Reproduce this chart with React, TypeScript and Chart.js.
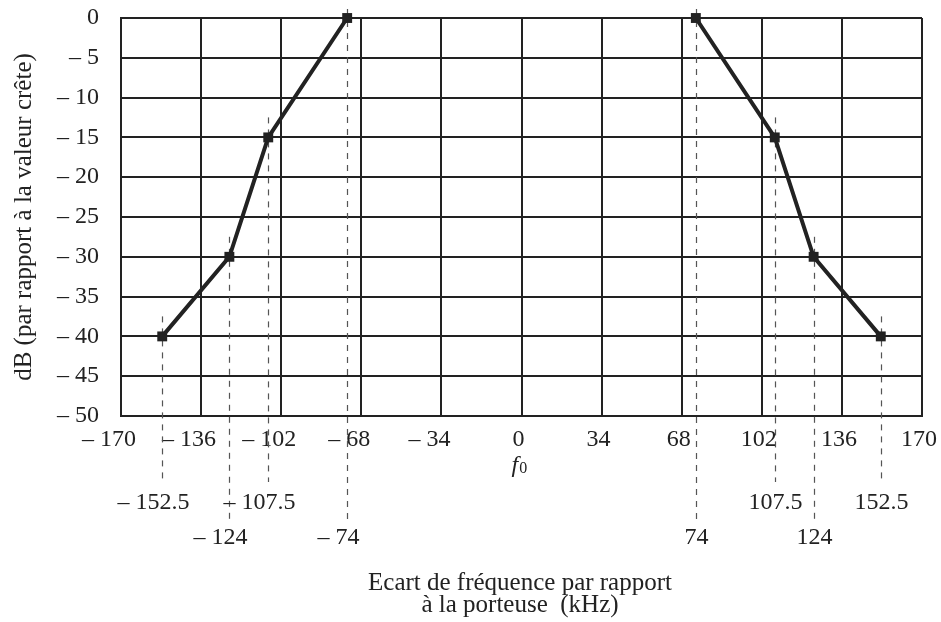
import React, { useEffect, useRef } from "react";
import { Chart, registerables } from "chart.js";

Chart.register(...registerables);

// Data
const leftFreq = [-152.5, -124, -107.5, -74];
const leftDb = [-40, -30, -15, 0];
const rightFreq = [74, 107.5, 124, 152.5];
const rightDb = [0, -15, -30, -40];
// label row (0 = upper row, 1 = lower row) for the dashed reference labels
const leftRows = [0, 1, 0, 1];
const rightRows = [1, 0, 1, 0];
const xTickValues = [-170, -136, -102, -68, -34, 0, 34, 68, 102, 136, 170];
const yTickValues = [0, -5, -10, -15, -20, -25, -30, -35, -40, -45, -50];
const yTitle = "dB (par rapport à la valeur crête)";
const xTitleLines = ["Ecart de fréquence par rapport", "à la porteuse  (kHz)"];
const centerLabel = "f";
const centerSub = "0";

const INK = "#222222";
const FONT = "Liberation Serif";
const TICK_SIZE = 24;
const TITLE_SIZE = 25;

function fmtX(v: number): string {
  if (v < 0) return "\u2013 " + Math.abs(v) + "    ";
  return String(v) + " ";
}
function fmtY(v: number): string {
  if (v < 0) return "\u2013 " + Math.abs(v);
  return String(v);
}

function zeroPad(scale: any) {
  scale.paddingTop = 0;
  scale.paddingBottom = 0;
  scale.paddingLeft = 0;
  scale.paddingRight = 0;
}

const annotPlugin = {
  id: "annot",
  beforeDatasetsDraw(chart: any) {
    const ctx = chart.ctx;
    const xs = chart.scales.x;
    const ys = chart.scales.y;
    const area = chart.chartArea;
    const rowDashEnd = [area.bottom + 66, area.bottom + 104];
    const rowLabelY = [area.bottom + 87, area.bottom + 122];

    const drawMarks = (freqs: number[], dbs: number[], rows: number[]) => {
      freqs.forEach((f, i) => {
        const px = Math.round(xs.getPixelForValue(f)) + 0.5;
        const py = ys.getPixelForValue(dbs[i]);
        const top = Math.max(py - 20, 9);
        const row = rows[i];
        ctx.save();
        ctx.strokeStyle = "#555555";
        ctx.lineWidth = 1.2;
        ctx.setLineDash([6, 6]);
        ctx.beginPath();
        ctx.moveTo(px, top);
        ctx.lineTo(px, rowDashEnd[row]);
        ctx.stroke();
        ctx.restore();

        ctx.save();
        ctx.font = `${TICK_SIZE}px "${FONT}"`;
        ctx.fillStyle = INK;
        ctx.textBaseline = "middle";
        const num = String(Math.abs(f));
        const w = ctx.measureText(num).width;
        const lx = px - w / 2;
        ctx.textAlign = "left";
        ctx.fillText(num, lx, rowLabelY[row]);
        if (f < 0) {
          ctx.textAlign = "right";
          ctx.fillText("\u2013 ", lx, rowLabelY[row]);
        }
        ctx.restore();
      });
    };
    drawMarks(leftFreq, leftDb, leftRows);
    drawMarks(rightFreq, rightDb, rightRows);

    ctx.save();
    ctx.fillStyle = INK;
    // f0 label
    const zx = xs.getPixelForValue(0);
    ctx.font = `italic ${TICK_SIZE}px "${FONT}"`;
    ctx.textBaseline = "alphabetic";
    ctx.textAlign = "left";
    const fw = ctx.measureText(centerLabel).width;
    ctx.fillText(centerLabel, zx - 10, area.bottom + 56);
    ctx.font = `16px "${FONT}"`;
    ctx.fillText(centerSub, zx - 10 + fw + 1, area.bottom + 57);

    // x title
    ctx.font = `${TITLE_SIZE}px "${FONT}"`;
    ctx.textAlign = "center";
    ctx.textBaseline = "alphabetic";
    ctx.fillText(xTitleLines[0], 520, 590);
    ctx.fillText(xTitleLines[1], 520, 612);

    // y title
    ctx.textBaseline = "middle";
    ctx.translate(24, (area.top + area.bottom) / 2);
    ctx.rotate(-Math.PI / 2);
    ctx.fillText(yTitle, 0, 0);
    ctx.restore();
  },
};

export default function App() {
  const ref = useRef<HTMLCanvasElement>(null);
  useEffect(() => {
    if (!ref.current) return;
    const mkSet = (xsArr: number[], ysArr: number[]) => ({
      data: xsArr.map((x, i) => ({ x, y: ysArr[i] })),
      showLine: true,
      clip: false,
      borderColor: INK,
      borderWidth: 4,
      pointStyle: "rect",
      pointRadius: 7,
      pointBackgroundColor: INK,
      pointBorderColor: INK,
      pointBorderWidth: 0,
    });
    const chart = new Chart(ref.current, {
      type: "scatter",
      data: {
        datasets: [mkSet(leftFreq, leftDb), mkSet(rightFreq, rightDb)],
      },
      options: {
        responsive: false,
        animation: false,
        layout: { padding: { top: 18, right: 19, left: 0, bottom: 0 } },
        plugins: {
          legend: { display: false },
          tooltip: { enabled: false },
        },
        scales: {
          x: {
            type: "linear",
            min: -170,
            max: 170,
            afterBuildTicks: (scale: any) => {
              scale.ticks = xTickValues.map((value) => ({ value }));
            },
            afterFit: (scale: any) => {
              scale.height = 206;
              zeroPad(scale);
            },
            ticks: {
              autoSkip: false,
              maxRotation: 0,
              padding: 9,
              color: INK,
              font: { family: FONT, size: TICK_SIZE },
              callback: (v: any) => fmtX(Number(v)),
            },
            grid: { color: INK, lineWidth: 2, drawTicks: false },
            border: { color: INK, width: 2 },
          },
          y: {
            type: "linear",
            min: -50,
            max: 0,
            afterBuildTicks: (scale: any) => {
              scale.ticks = yTickValues.map((value) => ({ value }));
            },
            afterFit: (scale: any) => {
              scale.width = 121;
              zeroPad(scale);
            },
            ticks: {
              autoSkip: false,
              padding: 22,
              color: INK,
              font: { family: FONT, size: TICK_SIZE },
              callback: (v: any) => fmtY(Number(v)),
            },
            grid: { color: INK, lineWidth: 2, drawTicks: false },
            border: { color: INK, width: 2 },
          },
        },
      },
      plugins: [annotPlugin],
    } as any);
    return () => chart.destroy();
  }, []);
  return (
    <div style={{ position: "fixed", left: 0, top: 0, width: 941, height: 622, background: "#fff" }}>
      <canvas ref={ref} width={941} height={622} style={{ display: "block" }} />
    </div>
  );
}
